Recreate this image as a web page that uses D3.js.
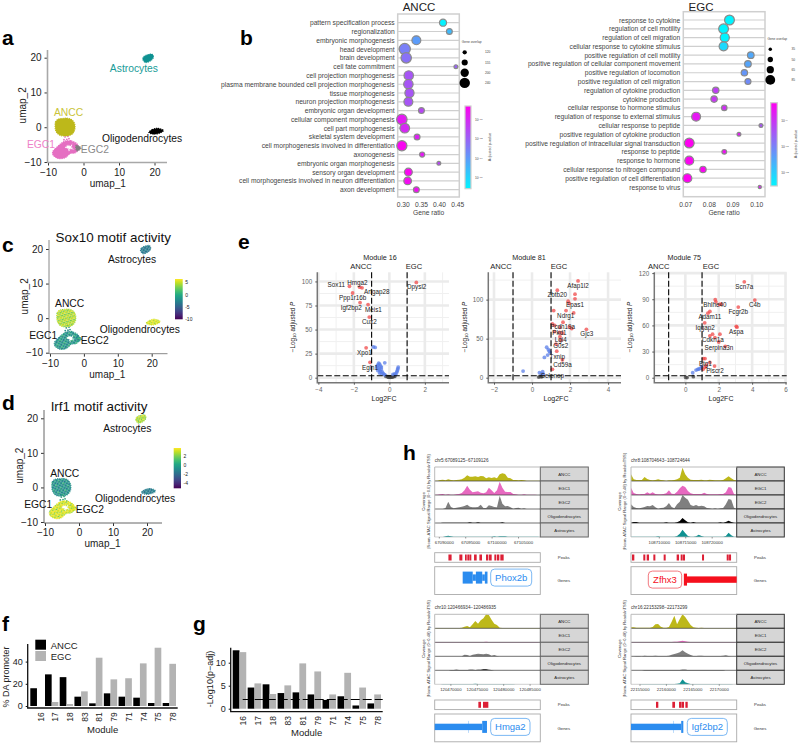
<!DOCTYPE html>
<html>
<head>
<meta charset="utf-8">
<script src="https://cdn.jsdelivr.net/npm/d3@7"></script>
<style>
  html, body { margin: 0; padding: 0; background: #fff; }
  svg { display: block; font-family: "Liberation Sans", Arial, sans-serif; }
</style>
</head>
<body>
<div id="chart-area"></div>
<script>

//  UMAP outlines, in umap units

var anccBlob = [[-8,0.3],[-7.9,1.5],[-7.2,2.3],[-6,2.5],[-4.5,2.6],[-3.2,2.1],[-2.5,1],[-2.4,-0.4],[-2.8,-1.5],[-3.6,-2.2],[-5,-2.5],[-6.5,-2.4],[-7.5,-1.6],[-7.9,-0.7]];
var egcBlob = [[-8.7,-7.1],[-8,-6.2],[-6.6,-4.9],[-5.2,-4],[-3.3,-4],[-1.7,-4.9],[-1.4,-6.4],[-2.4,-7.4],[-3.8,-7.6],[-5.2,-8.8],[-7.1,-9],[-8.5,-8.1]];
var egcHole = [[-4.4,-5],[-3.8,-5.3],[-3.1,-4.7],[-3.3,-5.7],[-2.6,-6.5],[-3.7,-6.3],[-4.2,-7.2],[-4.4,-6.2],[-5.4,-5.9]];
var egc2Blob = [[-2.1,-5.2],[-0.7,-6],[-1.9,-6.8]];
var astroBlob = [[16.7,19.5],[17,20.3],[17.9,20.8],[19.3,21],[19.7,20.1],[18.9,19.1],[17.5,18.6]];
var oligoBlob = [[18.4,-1.5],[19.3,-0.7],[20.8,-0.3],[22.5,-0.9],[21.7,-1.6],[19.8,-2]];
var strayCells = [[-4.9,-2.1],[-4.4,-2.6],[-5.2,-2.8],[-4.1,-3.3],[-4.7,-3.5],[-3.6,-3.9],[-5.5,-3.6]];

var umapTicks = [-10, 0, 10, 20];
var umapLabels = [["Astrocytes",14.2,17],["ANCC",-4.2,4.1],["EGC1",-12,-5],["EGC2",3.2,-6.5],["Oligodendrocytes",16.5,-3.3]];

//  motif activity mottling per cluster, 0-1 on viridis

var sox10Ancc = [0.95,0.8,1,0.7,0.85,1,0.75,0.95,1,0.7,0.9,0.85,0.75,0.95,0.8,1];
var sox10Egc = [0.45,0.6,0.4,0.55,0.65,0.4,0.5,0.7,0.42,0.55,0.62,0.38,0.58,0.45,0.4,0.66];
var sox10Astro = [0.4,0.45,0.35,0.42,0.38,0.48,0.4,0.36,0.44,0.36,0.42,0.46,0.4,0.34,0.45,0.4];
var sox10Oligo = [1,0.9,0.95,0.85,0.92,1,0.88,0.96,0.86,0.95,1,0.9,0.98,0.84,0.92,1];
var irf1Ancc = [0.45,0.5,0.6,0.42,0.55,0.7,0.4,0.5,0.44,0.48,0.66,0.42,0.52,0.4,0.46,0.6];
var irf1Egc = [1,0.95,0.85,1,0.9,1,0.75,0.95,0.97,0.85,1,0.92,0.8,1,0.95,0.88];
var irf1Astro = [0.85,1,0.75,0.9,1,0.8,0.95,0.7,0.78,0.95,0.85,1,0.92,0.72,1,0.82];
var irf1Oligo = [0.42,0.46,0.38,0.44,0.5,0.4,0.45,0.36,0.4,0.48,0.42,0.38,0.44,0.36,0.46,0.4];

//  Enrichment, ANCC

var anccTerms = ["pattern specification process","regionalization","embryonic morphogenesis","head development","brain development","cell fate commitment","cell projection morphogenesis","plasma membrane bounded cell projection morphogenesis","tissue morphogenesis","neuron projection morphogenesis","embryonic organ development","cellular component morphogenesis","cell part morphogenesis","skeletal system development","cell morphogenesis involved in differentiation","axonogenesis","embryonic organ morphogenesis","sensory organ development","cell morphogenesis involved in neuron differentiation","axon development"];
var anccRatio = [0.4095,0.427,0.336,0.304,0.308,0.445,0.315,0.314,0.317,0.314,0.35,0.296,0.304,0.338,0.296,0.352,0.398,0.314,0.312,0.336];
var anccOverlap = [175,150,210,255,240,110,220,220,215,210,150,240,225,150,235,135,110,190,185,150];
var anccExp = [-17,-15,-14,-13,-12.5,-12,-11.5,-11.5,-11.5,-11.5,-11,-9.5,-10,-9.7,-8.8,-9.5,-11,-8.8,-9,-9];
var anccRatioTicks = [0.30,0.35,0.40,0.45];
var anccOverlapTicks = [120,155,200,240];
var anccExpTicks = [-10,-12,-14,-16];

//  Enrichment, EGC

var egcTerms = ["response to cytokine","regulation of cell motility","regulation of cell migration","cellular response to cytokine stimulus","positive regulation of cell motility","positive regulation of cellular component movement","positive regulation of locomotion","positive regulation of cell migration","regulation of cytokine production","cytokine production","cellular response to hormone stimulus","regulation of response to external stimulus","cellular response to peptide","positive regulation of cytokine production","positive regulation of intracellular signal transduction","response to peptide","response to hormone","cellular response to nitrogen compound","positive regulation of cell differentiation","response to virus"];
var egcRatio = [0.0885,0.086,0.0865,0.086,0.0975,0.0963,0.0948,0.0963,0.0827,0.082,0.0863,0.0744,0.1018,0.0925,0.0715,0.0863,0.0715,0.0773,0.0707,0.1013];
var egcOverlap = [85,85,80,78,60,60,58,55,58,58,50,78,38,38,85,45,78,58,78,33];
var egcExp = [-14,-14,-14,-13.3,-12,-11.9,-11.5,-11.2,-9.2,-9,-8.8,-8.2,-9.8,-8.3,-7.6,-8,-7.7,-7.7,-7.6,-8.5];
var egcRatioTicks = [0.07,0.08,0.09,0.10];
var egcOverlapTicks = [35,50,65,85];
var egcExpTicks = [-9,-11,-13];

//  Volcano, module 16

var m16Up = [[-2.25,95],[-2.07,88],[-1.67,94],[-1.54,93.4],[-1.65,78],[-1.2,76],[-1.13,63],[-1.31,31],[-1.09,16],[1.52,99]];
var m16Blue = [[-0.9,32],[-0.8,31.5],[-0.26,15.5],[-0.6,15],[-0.55,14],[-0.65,13],[-0.7,12],[-0.5,12],[-0.45,11],[-0.6,10],[-0.7,10],[-0.45,9],[-0.55,8],[-0.65,7.5],[-0.5,6.5],[-0.4,6],[-0.55,5],[-0.35,4.5],[-0.45,4],[-0.3,3.5],[-0.25,3],[0.5,11],[0.48,9.5],[0.46,8],[0.43,6.5],[0.3,4],[0.2,3.5],[0.35,3.2],[0.4,5]];
var m16Gray = [[-0.2,1.5],[-0.1,1],[0,0.7],[0.1,0.8],[0.2,1],[0.3,1.3],[0.05,0.4],[-0.05,0.5],[0.15,0.5],[0.25,1.6]];
var m16Labels = [["Sox11",-2.99,97],["Hmga2",-1.8,99],["Arfgap28",-0.71,90],["Ppp1r16b",-2.07,83],["Igf2bp2",-2.14,73],["Meis1",-0.9,70.6],["Cux2",-1.13,58],["Xpo1",-1.41,26],["Egln1",-1.09,10.7],["Dpysl2",1.54,94.5]];

//  Volcano, module 81

var m81Up = [[2.42,124],[1.33,112],[2.26,107],[2.26,101],[1.9,98],[1.96,95],[1.14,86],[1.79,86],[2.19,83],[1.63,71],[1.07,69],[1.19,67],[1.47,64.5],[1.96,65],[2.09,63],[2.86,62],[1.18,59],[1.44,58],[1.6,57],[1.47,52.5],[1.51,48],[1.26,43],[1.3,34],[1.6,23],[1.07,10.7]];
var m81Blue = [[0.77,39],[0.86,36],[0.91,34],[0.95,32],[0.82,29],[0.65,26],[-0.47,8.5],[0.39,6.4],[0.56,7.7],[0.6,4.5],[0.5,5]];
var m81Gray = [[0.35,0.8],[0.42,1.6],[0.5,1.2]];
var m81Labels = [["Afap1l2",2.42,118],["Zbtb20",1.33,106],["Epas1",2.26,94],["Ndrg1",1.77,79.5],["Pcdh19a",1.61,66],["Pkd1",1.44,58],["Lgi4",1.51,49.5],["G0s2",1.51,41],["Txnip",1.33,27],["Cd59a",1.6,16.7],["Selenop",1.07,3.4],["Gjc3",2.88,56]];

//  Volcano, module 75

var m75Up = [[3.53,110],[4.16,89],[1.79,89.4],[1.83,87],[2.05,84],[2.15,84.5],[3.17,81],[1.47,76],[1.35,74],[1.16,63],[3.05,59],[3.09,58],[2.07,50],[1.63,50],[1.47,48],[1.77,46],[2,41],[2.39,36],[1.08,22],[1.18,22],[1.47,17.6],[1.25,14.5],[1.75,13.4],[1.18,12],[1.06,9.6]];
var m75Blue = [[0.44,5.7],[0.64,8.8],[0.74,9.6],[0.88,10.7],[0.98,12.6],[0.8,9.8]];
var m75Gray = [[0.02,0.4],[0.1,0.2],[0.48,1.2]];
var m75Labels = [["Scn7a",3.53,104.7],["C4b",4.16,84],["Bhlhe40",1.77,84],["Fcgr2b",3.17,75.7],["Adam11",1.47,70.7],["Iqgap2",1.18,57.7],["Aspa",3.05,53.5],["Cdkn1a",1.65,44],["Serpina3n",2.01,34.8],["Btg1",1.2,16.8],["Plscr2",1.77,8]];

//  Bars f and g

var modules = ["16","17","18","83","81","79","71","74","75","78"];
var daAncc = [16,28.5,26,8.4,2.4,11.4,8.4,7.5,2.7,2.7];
var daEgc = [0,3.6,1.8,13.2,43.5,24,25,38.4,52.5,38];
var padjAncc = [12.7,4.6,5.3,3.4,3.55,3.1,1.9,2.7,0.7,1.15];
var padjEgc = [12.3,5.5,3.2,5.07,9.85,8.1,3.1,7.8,4.6,3.1];

//  Coverage tracks, 40 bins per window, in track units (full track = 42)

var trackNames = ["ANCC","EGC1","EGC2","Oligodendrocytes","Astrocytes"];
var trackColors = ["#bdb81a","#e769c0","#7f7f7f","#000000","#0e9191"];

var phox2bCov = [
  [1,1,3,4,2,5,3,2,3,4,5,10,17,13,13,14,12,15,14,8,11,9,11,8,20,23,21,10,8,3,3,2,3,2,1,1,1,1,1,1],
  [1,1,2,3,1,2,1,1,2,3,6,14,28,16,8,10,11,7,5,8,22,14,6,14,40,22,10,9,9,3,2,1,1,2,1,1,1,1,0,0],
  [0,0,0,0,3,22,6,2,4,5,7,9,13,7,5,5,6,13,3,3,11,9,6,5,40,16,8,9,5,1,3,4,1,2,0,0,0,0,0,0],
  [0,0,0,1,1,1,1,1,1,1,1,1,1,2,1,1,2,1,1,1,1,1,1,1,1,2,0,0,0,0,0,0,0,0,0,0,0,0,0,0],
  [0,0,0,0,2,4,2,1,1,1,1,1,1,1,1,1,1,1,1,1,1,1,2,1,2,2,2,1,1,1,1,1,1,1,1,1,1,1,1,0]
];
var zfhx3Cov = [
  [20,5,3,3,3,12,6,3,2,3,5,3,2,1,2,2,3,5,10,40,20,10,4,3,3,3,4,2,2,4,3,2,2,2,3,8,14,8,3,2],
  [22,6,3,2,3,3,8,4,8,3,2,2,3,5,14,4,3,10,20,28,24,12,5,3,3,3,3,7,3,2,2,2,2,3,3,8,24,22,3,1],
  [14,6,3,2,4,6,9,8,12,5,1,3,4,8,18,6,2,14,22,42,34,28,12,9,12,8,10,8,3,2,1,2,1,2,3,14,30,28,4,1],
  [1,3,3,1,1,1,1,1,1,1,1,1,1,2,1,1,1,2,6,15,8,2,1,3,1,1,1,1,1,1,1,1,1,2,1,3,7,3,1,0],
  [1,1,1,1,1,1,1,1,1,1,2,1,1,1,1,1,1,3,10,22,12,3,1,1,2,7,3,1,1,1,1,1,1,1,1,3,13,5,1,1]
];
var hmga2Cov = [
  [1,1,1,1,1,1,1,1,1,1,2,5,7,3,12,22,14,24,30,42,40,26,14,10,2,1,1,1,1,1,1,1,1,1,1,1,1,1,1,1],
  [1,1,1,1,1,1,1,1,1,1,1,1,1,1,1,1,1,1,1,2,1,1,1,1,1,1,1,1,1,1,1,1,1,1,1,1,1,1,1,0],
  [0,0,0,0,0,0,0,0,0,0,0,5,4,1,5,6,8,7,6,8,6,2,4,1,0,0,0,0,0,0,0,0,0,0,0,0,0,0,0,0],
  [0,0,0,0,0,0,1,1,2,1,1,1,1,2,2,1,2,2,3,3,2,1,0,0,0,0,0,0,0,0,0,0,0,0,0,0,0,0,0,0],
  [0,0,0,1,1,1,1,1,1,1,1,1,1,1,1,2,1,1,1,1,1,1,1,1,1,1,1,1,1,1,0,0,0,0,0,0,0,0,0,0]
];
var igf2bp2Cov = [
  [3,3,2,2,2,2,2,2,4,12,13,5,2,2,4,20,38,12,28,42,34,22,10,3,2,1,2,1,1,1,1,1,1,1,1,1,1,1,1,1],
  [1,1,1,1,1,1,1,1,1,1,1,1,1,1,1,1,2,2,3,5,3,2,1,1,1,1,1,1,1,1,1,1,1,1,1,1,1,1,1,0],
  [0,0,1,1,0,2,1,1,1,2,1,1,1,1,2,5,7,9,12,18,12,8,4,1,1,2,2,1,1,1,1,1,1,1,2,3,1,0,0,0],
  [0,0,0,0,0,1,1,1,1,1,1,1,1,1,1,1,1,1,1,2,2,1,1,1,1,1,1,1,1,1,1,1,1,1,1,0,0,0,0,0],
  [0,0,0,0,1,1,1,1,1,1,1,1,1,1,1,1,1,2,3,15,6,3,1,1,1,1,1,1,1,1,1,1,1,1,1,1,1,1,0,0]
];

//  Windows, peaks and gene parts, in kb from window start

var windowStarts = [67089125, 108704643, 120466934, 22153298];
var windowLabels = ["chr5:67089125\u221267109126","chr8:108704643\u2212108724644","chr10:120466934\u2212120486935","chr16:22153298\u221222173299"];
var windowTicks = [
  [67090000,67095000,67100000,67105000],
  [108710000,108715000,108720000],
  [120470000,120475000,120480000,120485000],
  [22155000,22160000,22165000,22170000]
];
var phox2bPeaks = [[2.6,3.2],[4.67,5.24],[5.74,6.06],[6.18,6.5],[6.56,6.94],[7.45,7.95],[8.46,8.96],[9.72,10.16],[10.29,10.79],[11.3,11.67],[11.8,12.24],[12.43,13.06]];
var zfhx3Peaks = [[0.19,0.63],[2.33,2.71],[2.97,3.41],[4.23,4.61],[6.18,6.56],[8.64,9.09],[9.4,9.78],[9.84,10.22],[13.44,13.82],[18.11,18.49],[18.55,18.93]];
var hmga2Peaks = [[8.27,8.77],[9.15,10.16]];
var igf2bp2Peaks = [[4.73,5.17],[7.82,8.33],[9.09,9.59],[9.65,10.03],[10.29,10.73]];
var phox2bParts = [[5.3,7.2,"exon"],[7.2,7.8,"utr"],[7.8,9.0,"exon"],[9.0,9.5,"utr"],[9.5,10.0,"exon"]];
var zfhx3Parts = [[10.0,10.6,"exon"],[10.6,20,"utr"]];
var hmga2Parts = [[0,9.0,"utr"],[6.37,6.43,"line"],[9.0,9.9,"exon"]];
var igf2bp2Parts = [[0,9.5,"utr"],[8.0,8.06,"line"],[9.5,9.9,"exon"]];
var geneNames = ["Phox2b","Zfhx3","Hmga2","Igf2bp2"];

//  SVG canvas

var svg = d3.select("#chart-area").append("svg")
    .attr("width", 800)
    .attr("height", 743);

var defs = svg.append("defs");

function addText(g, txt, x, y, size, color, anchor) {
    return g.append("text")
        .attr("x", x)
        .attr("y", y)
        .attr("font-size", size)
        .attr("fill", color || "#000")
        .attr("text-anchor", anchor || "middle")
        .attr("dominant-baseline", "central")
        .text(txt);
}

function addRotated(g, txt, x, y, size, color) {
    return g.append("text")
        .attr("transform", "translate(" + x + "," + y + ") rotate(-90)")
        .attr("font-size", size)
        .attr("fill", color || "#000")
        .attr("text-anchor", "middle")
        .attr("dominant-baseline", "central")
        .text(txt);
}

//  Panel letters

[["a",2,45],["b",240,45],["c",2,252],["d",2,410],["e",238,249],["f",2,631],["g",193,631],["h",403,460]].forEach((d) => {
    svg.append("text").attr("x", d[1]).attr("y", d[2])
        .attr("font-size", 21).attr("font-weight", "bold").text(d[0]);
});

//  UMAP panels

var patternCount = 0;

function speckle(values) {
    var id = "speckle" + (patternCount++);
    var p = defs.append("pattern").attr("id", id)
        .attr("patternUnits", "userSpaceOnUse")
        .attr("patternTransform", "rotate(28)")
        .attr("width", 5.2).attr("height", 5.2);
    values.forEach((v, i) => {
        p.append("rect")
            .attr("x", (i % 4) * 1.3)
            .attr("y", Math.floor(i / 4) * 1.3)
            .attr("width", 1.35)
            .attr("height", 1.35)
            .attr("fill", d3.interpolateViridis(v));
    });
    return "url(#" + id + ")";
}

function umapPanel(o) {
    var g = svg.append("g");
    var x = d3.scaleLinear().domain([-10, 20]).range(o.xr);
    var y = d3.scaleLinear().domain([-10, 20]).range(o.yr);
    var outline = d3.line().x((d) => x(d[0])).y((d) => y(d[1])).curve(d3.curveCardinalClosed);
    var star = d3.line().x((d) => x(d[0])).y((d) => y(d[1])).curve(d3.curveLinearClosed);

    g.selectAll(null).data(strayCells).enter().append("circle")
        .attr("cx", (d) => x(d[0])).attr("cy", (d) => y(d[1])).attr("r", 0.9)
        .attr("fill", o.stray);

    //  dotted edge in the fill colour, so the clouds do not end on a clean curve
    [[outline(anccBlob), o.ancc], [outline(egcBlob) + star(egcHole), o.egc], [outline(egc2Blob), o.egc2],
     [outline(astroBlob), o.astro], [outline(oligoBlob), o.oligo]].forEach((b) => {
        g.append("path").attr("d", b[0])
            .attr("fill", b[1]).attr("fill-rule", "evenodd")
            .attr("stroke", b[1]).attr("stroke-width", 1.1).attr("stroke-dasharray", "1.2,0.9");
    });

    var xAxis = g.append("g").attr("transform", "translate(0," + (o.yr[0] + o.spineOff) + ")")
        .call(d3.axisBottom(x).tickValues(umapTicks).tickFormat(d3.format("d")).tickSize(3));
    var yAxis = g.append("g").attr("transform", "translate(" + (o.xr[0] - o.spineOff) + ",0)")
        .call(d3.axisLeft(y).tickValues(umapTicks).tickFormat(d3.format("d")).tickSize(3));
    [xAxis, yAxis].forEach((a) => {
        a.select(".domain").remove();
        a.selectAll("line").attr("stroke", "#333");
        a.selectAll("text").attr("font-size", 10).attr("fill", "#222").attr("font-family", "Liberation Sans");
    });

    g.append("line").attr("x1", o.xr[0] - o.spineOff).attr("x2", o.xEnd)
        .attr("y1", o.yr[0] + o.spineOff).attr("y2", o.yr[0] + o.spineOff)
        .attr("stroke", o.spine).attr("stroke-width", o.spineW);
    g.append("line").attr("x1", o.xr[0] - o.spineOff).attr("x2", o.xr[0] - o.spineOff)
        .attr("y1", o.yTop).attr("y2", o.yr[0] + o.spineOff)
        .attr("stroke", o.spine).attr("stroke-width", o.spineW);

    umapLabels.forEach((d, i) => {
        addText(g, d[0], x(d[1]), y(d[2]), 10.3, o.labelColors[i]);
    });

    addText(g, "umap_1", (o.xr[0] + o.xr[1]) / 2 + 6.5, o.yr[0] + 21.5, 10, "#222");
    addRotated(g, "umap_2", o.xr[0] - 26, (o.yr[0] + o.yr[1]) / 2 - 4.5, 10, "#222");
}

umapPanel({
    xr: [48, 154.5], yr: [162, 57.7], xEnd: 167, yTop: 50, spineOff: 0.5,
    spine: "#a8a8a8", spineW: 1.6,
    ancc: "#bdb81a", egc: "#e56fc2", egc2: "#7f7f7f", astro: "#0e9191", oligo: "#000", stray: "#e56fc2",
    labelColors: ["#189c98","#c9c43a","#ee82c8","#8a8a8a","#111"]
});

umapPanel({
    xr: [50, 151.7], yr: [352.7, 249], xEnd: 167.5, yTop: 240, spineOff: 1,
    spine: "#888", spineW: 1,
    ancc: speckle(sox10Ancc), egc: speckle(sox10Egc), egc2: speckle(sox10Egc), astro: speckle(sox10Astro), oligo: speckle(sox10Oligo), stray: "#2a8f8a",
    labelColors: ["#111","#111","#111","#111","#111"]
});

umapPanel({
    xr: [45, 147], yr: [522, 418.3], xEnd: 162, yTop: 410, spineOff: 1,
    spine: "#666", spineW: 1,
    ancc: speckle(irf1Ancc), egc: speckle(irf1Egc), egc2: speckle(irf1Egc), astro: speckle(irf1Astro), oligo: speckle(irf1Oligo), stray: "#3aa57f",
    labelColors: ["#111","#111","#111","#111","#111"]
});

addText(svg, "Sox10 motif activity", 113.3, 237, 13.4, "#111");
addText(svg, "Irf1 motif activity", 99, 406, 13.4, "#111");

function viridisBar(id, x0, x1, yTop, yBot, ticks) {
    var grad = defs.append("linearGradient").attr("id", id)
        .attr("x1", 0).attr("x2", 0).attr("y1", 1).attr("y2", 0);
    d3.range(0, 1.01, 0.1).forEach((t) => {
        grad.append("stop").attr("offset", t).attr("stop-color", d3.interpolateViridis(t));
    });
    svg.append("rect").attr("x", x0).attr("y", yTop).attr("width", x1 - x0).attr("height", yBot - yTop)
        .attr("fill", "url(#" + id + ")");
    ticks.forEach((d) => {
        addText(svg, d[0], x1 + 2.5, d[1], 5, "#222", "start");
    });
}

viridisBar("soxBar", 175, 182.7, 279, 319.3, [["5",282.3],["0",294.7],["-5",307],["-10",319.3]]);
viridisBar("irfBar", 173.7, 181, 448, 488.3, [["2",456.3],["0",465.3],["-2",474.3],["-4",483.3]]);

//  Enrichment panels

function dotPanel(o) {
    var g = svg.append("g");
    var x = d3.scaleLinear().domain(o.xDomain).range(o.xRange);
    var y = d3.scalePoint().domain(o.terms).range(o.yRange);
    var r = d3.scaleLinear().domain(o.rDomain).range(o.rRange);
    var c = d3.scaleLinear().domain(o.expDomain).range(["#00f5ff", "#ff00f0"]);

    g.append("rect").attr("x", o.box[0]).attr("y", o.box[2])
        .attr("width", o.box[1] - o.box[0]).attr("height", o.box[3] - o.box[2])
        .attr("fill", "#fff").attr("stroke", "#cfcfcf").attr("stroke-width", 1.5);

    g.selectAll(null).data(o.terms).enter().append("line")
        .attr("x1", o.box[0]).attr("x2", o.box[1])
        .attr("y1", (d) => y(d)).attr("y2", (d) => y(d))
        .attr("stroke", "#cfcfcf").attr("stroke-width", 1.2);

    g.selectAll(null).data(o.terms).enter().append("circle")
        .attr("cx", (d, i) => x(o.ratio[i]))
        .attr("cy", (d) => y(d))
        .attr("r", (d, i) => r(o.overlap[i]))
        .attr("fill", (d, i) => c(o.exp[i]))
        .attr("stroke", "#8a8a8a")
        .attr("stroke-width", 1.2);

    o.terms.forEach((d) => {
        addText(g, d, o.box[0] - 3, y(d), 6.7, "#444", "end");
    });

    addText(g, o.title, o.titleX, 6.5, 11.5, "#222");

    o.ratioTicks.forEach((d) => {
        addText(g, d.toFixed(2), x(d), 204, 6.7, "#444");
    });
    addText(g, "Gene ratio", o.xLabelX, 212, 6.7, "#444");

    addText(g, "Gene overlap", o.sizeX + 7, o.sizeTitleY, 3.3, "#444");
    o.overlapTicks.forEach((d, i) => {
        var yy = o.sizeY + i * 10.2;
        g.append("circle").attr("cx", o.sizeX).attr("cy", yy).attr("r", r(d)).attr("fill", "#000");
        addText(g, d, o.sizeX + 23, yy, 3.3, "#444");
    });

    var gradId = "pval" + o.title;
    var grad = defs.append("linearGradient").attr("id", gradId)
        .attr("x1", 0).attr("x2", 0).attr("y1", 0).attr("y2", 1);
    grad.append("stop").attr("offset", 0).attr("stop-color", "#ff00f0");
    grad.append("stop").attr("offset", 1).attr("stop-color", "#00f5ff");

    var barY = d3.scaleLinear().domain(o.expDomain).range(o.bar.slice(2).reverse());
    g.append("rect").attr("x", o.bar[0]).attr("y", o.bar[2])
        .attr("width", o.bar[1] - o.bar[0]).attr("height", o.bar[3] - o.bar[2])
        .attr("fill", "url(#" + gradId + ")")
        .attr("stroke", "#cfcfcf").attr("stroke-width", 1.2);
    o.expTicks.forEach((d) => {
        var t = addText(g, "10", o.bar[1] + 4, barY(d), 3.2, "#444", "start");
        t.append("tspan").attr("font-size", 2.4).attr("dy", -1).text("\u2212" + Math.abs(d));
    });
    addRotated(g, "Adjusted p-value", o.barLabelX, o.barLabelY, 3.8, "#444");
}

dotPanel({
    title: "ANCC", titleX: 419, terms: anccTerms, ratio: anccRatio, overlap: anccOverlap, exp: anccExp,
    ratioTicks: anccRatioTicks, overlapTicks: anccOverlapTicks, expTicks: anccExpTicks,
    xDomain: [0.30, 0.45], xRange: [403.3, 457.7], yRange: [22.7, 189.7], box: [397.7, 459.3, 14, 197],
    rDomain: [110, 255], rRange: [1.9, 5.6], expDomain: [-17.1, -8.55],
    xLabelX: 428.7, sizeX: 464.7, sizeY: 52.3, sizeTitleY: 42,
    bar: [465, 471, 106, 188.7], barLabelX: 490, barLabelY: 147
});

dotPanel({
    title: "EGC", titleX: 701, terms: egcTerms, ratio: egcRatio, overlap: egcOverlap, exp: egcExp,
    ratioTicks: egcRatioTicks, overlapTicks: egcOverlapTicks, expTicks: egcExpTicks,
    xDomain: [0.07, 0.10], xRange: [685.7, 756.7], yRange: [20, 187], box: [683.3, 765, 11.7, 196.7],
    rDomain: [33, 85], rRange: [1.6, 4.9], expDomain: [-14.03, -7.55],
    xLabelX: 724, sizeX: 770.3, sizeY: 49.3, sizeTitleY: 39,
    bar: [770.7, 777.3, 102.7, 186], barLabelX: 796, barLabelY: 144
});

//  Volcano panels

function volcano(o) {
    var g = svg.append("g");
    var x = d3.scaleLinear().domain(o.xDomain).range([o.left, o.right]);
    var y = d3.scaleLinear().domain(o.yDomain).range([382.7, 272.3]);

    o.xMinor.forEach((d) => {
        g.append("line").attr("x1", x(d)).attr("x2", x(d)).attr("y1", 272.3).attr("y2", 382.7)
            .attr("stroke", "#f0f0f0").attr("stroke-width", 1);
    });
    o.yMinor.forEach((d) => {
        g.append("line").attr("x1", o.left).attr("x2", o.right).attr("y1", y(d)).attr("y2", y(d))
            .attr("stroke", "#f0f0f0").attr("stroke-width", 1);
    });
    o.xTicks.forEach((d) => {
        g.append("line").attr("x1", x(d)).attr("x2", x(d)).attr("y1", 272.3).attr("y2", 382.7)
            .attr("stroke", "#ebebeb").attr("stroke-width", 2.6);
    });
    o.yTicks.forEach((d) => {
        g.append("line").attr("x1", o.left).attr("x2", o.right).attr("y1", y(d)).attr("y2", y(d))
            .attr("stroke", "#ebebeb").attr("stroke-width", 2.6);
    });

    [[o.gray, "#444"], [o.blue, "#5b7fe8"], [o.up, "#f04a4a"]].forEach((s) => {
        g.selectAll(null).data(s[0]).enter().append("circle")
            .attr("cx", (d) => x(d[0]))
            .attr("cy", (d) => y(d[1]))
            .attr("r", 1.9)
            .attr("fill", s[1])
            .attr("fill-opacity", 0.75);
    });

    [-1, 1].forEach((d) => {
        g.append("line").attr("x1", x(d)).attr("x2", x(d)).attr("y1", 272.3).attr("y2", 382.7)
            .attr("stroke", "#000").attr("stroke-width", 1.1).attr("stroke-dasharray", "6,2.5");
    });
    g.append("line").attr("x1", o.left).attr("x2", o.right).attr("y1", 375.7).attr("y2", 375.7)
        .attr("stroke", "#000").attr("stroke-width", 1.1).attr("stroke-dasharray", "6,2.5");

    g.append("path").attr("d", "M" + o.left + ",272.3V382.7H" + o.right)
        .attr("fill", "none").attr("stroke", "#777").attr("stroke-width", 1.5);

    o.labels.forEach((d) => {
        addText(g, d[0], x(d[1]), y(d[2]), 6.3, "#222");
    });

    var xAxis = g.append("g").attr("transform", "translate(0,382.7)")
        .call(d3.axisBottom(x).tickValues(o.xTicks).tickFormat((d) => String(d).replace("-", "\u2212")).tickSize(2));
    var yAxis = g.append("g").attr("transform", "translate(" + o.left + ",0)")
        .call(d3.axisLeft(y).tickValues(o.yTicks).tickFormat(d3.format("d")).tickSize(2));
    [xAxis, yAxis].forEach((a) => {
        a.select(".domain").remove();
        a.selectAll("line").attr("stroke", "#555");
        a.selectAll("text").attr("font-size", 6.3).attr("fill", "#666").attr("font-family", "Liberation Sans");
    });

    addText(g, o.title, o.titleX, 257, 7.2, "#222");
    addText(g, "ANCC", o.anccX, 266.3, 7.6, "#222");
    addText(g, "EGC", o.egcX, 266.3, 7.6, "#222");
    addText(g, "Log2FC", o.logX, 398.7, 7, "#222");

    var lab = g.append("text")
        .attr("transform", "translate(" + o.yLabX + ",327) rotate(-90)")
        .attr("font-size", 6.3).attr("fill", "#222").attr("text-anchor", "middle");
    lab.append("tspan").text("\u2212Log");
    lab.append("tspan").attr("font-size", 4.4).attr("dy", 1.4).text("10");
    lab.append("tspan").attr("dy", -1.4).text(" adjusted ");
    lab.append("tspan").attr("font-style", "italic").text("P");
}

volcano({
    title: "Module 16", titleX: 380, anccX: 361, egcX: 414, logX: 384, yLabX: 295,
    left: 317.3, right: 449, xDomain: [-4.06, 3.36], yDomain: [-5.2, 109.5],
    xTicks: [-4,-2,0,2], xMinor: [-3,-1,1,3], yTicks: [0,25,50,75,100], yMinor: [12.5,37.5,62.5,87.5],
    up: m16Up, blue: m16Blue, gray: m16Gray, labels: m16Labels
});
volcano({
    title: "Module 81", titleX: 529, anccX: 501, egcX: 559, logX: 556, yLabX: 467,
    left: 488.3, right: 621, xDomain: [-2.3, 4.68], yDomain: [-6.4, 135],
    xTicks: [-2,0,2,4], xMinor: [-1,1,3], yTicks: [0,50,100], yMinor: [25,75,125],
    up: m81Up, blue: m81Blue, gray: m81Gray, labels: m81Labels
});
volcano({
    title: "Module 75", titleX: 684.3, anccX: 658.7, egcX: 711, logX: 721, yLabX: 632,
    left: 654.3, right: 786.7, xDomain: [-1.86, 6.07], yDomain: [-5.7, 120.9],
    xTicks: [0,2,4,6], xMinor: [-1,1,3,5], yTicks: [0,30,60,90,120], yMinor: [15,45,75,105],
    up: m75Up, blue: m75Blue, gray: m75Gray, labels: m75Labels
});

//  Bars f and g

function barPanel(o) {
    var g = svg.append("g");
    var x0 = d3.scaleBand().domain(modules).range(o.xRange).paddingInner(0.095);
    var x1 = d3.scaleBand().domain([0, 1]).range([0, x0.bandwidth()]);
    var y = d3.scaleLinear().domain([0, o.yMax]).range([o.y0, o.y0 - o.yMax * o.pxPerUnit]);

    [[o.ancc, "#000"], [o.egc, "#b3b3b3"]].forEach((s, k) => {
        g.selectAll(null).data(modules).enter().append("rect")
            .attr("x", (d) => x0(d) + x1(k))
            .attr("width", x1.bandwidth())
            .attr("y", (d, i) => y(s[0][i]))
            .attr("height", (d, i) => o.y0 - y(s[0][i]))
            .attr("fill", s[1]);
    });

    if (o.cutoff) {
        g.append("line").attr("x1", o.cutX).attr("x2", o.axisRight)
            .attr("y1", y(o.cutoff)).attr("y2", y(o.cutoff))
            .attr("stroke", "#000").attr("stroke-width", 1.1).attr("stroke-dasharray", "9,3");
    }

    g.append("path").attr("d", "M" + o.axisLeft + "," + o.axisTop + "V" + o.axisBottom + "H" + o.axisRight)
        .attr("fill", "none").attr("stroke", "#111").attr("stroke-width", 1.3);

    var yAxis = g.append("g").attr("transform", "translate(" + o.axisLeft + ",0)")
        .call(d3.axisLeft(y).tickValues(o.yTicks).tickFormat(d3.format("d")).tickSize(2));
    yAxis.select(".domain").remove();
    yAxis.selectAll("line").attr("stroke", "#111");
    yAxis.selectAll("text").attr("font-size", 9).attr("fill", "#222").attr("font-family", "Liberation Sans");

    modules.forEach((d) => {
        addRotated(g, d, x0(d) + x0.bandwidth() / 2 + 3.7, o.axisBottom + 9, 8.5, "#222");
    });

    addText(g, "Module", o.moduleX, o.moduleY, 9.5, "#222");
    addRotated(g, o.yLabel, o.yLabX, o.yLabY, 9, "#222");
}

barPanel({
    ancc: daAncc, egc: daEgc, xRange: [30.3, 176], y0: 706, yMax: 55, pxPerUnit: 1.11,
    yTicks: [0,20,40], axisLeft: 27.7, axisTop: 644, axisBottom: 708, axisRight: 177.7,
    moduleX: 102.7, moduleY: 729.3, yLabel: "% DA promoter", yLabX: 6, yLabY: 677
});

barPanel({
    ancc: padjAncc, egc: padjEgc, xRange: [232.7, 381], y0: 708.7, yMax: 13, pxPerUnit: 4.6,
    yTicks: [0,5,10], axisLeft: 230.7, axisTop: 647.7, axisBottom: 711.7, axisRight: 382.7,
    cutoff: 2, cutX: 242.7,
    moduleX: 306.7, moduleY: 732, yLabel: "-Log10(p\u2212adj)", yLabX: 210, yLabY: 679
});

[["ANCC","#000",639.7,645],["EGC","#b3b3b3",651,656.7]].forEach((d) => {
    svg.append("rect").attr("x", 35.3).attr("y", d[2]).attr("width", 10.7).attr("height", 10).attr("fill", d[1]);
    addText(svg, d[0], 50.7, d[3], 9.5, "#222", "start");
});

//  Browser tracks

var partHeight = { exon: 12, utr: 6.4, line: 12 };

function browserPanel(o) {
    var g = svg.append("g");
    var x = d3.scaleLinear().domain([0, 20.001]).range([o.left, o.right]);
    var bin = d3.scaleLinear().domain([0, 39]).range([o.left, o.right]);
    var trackH = 14;
    var cov = d3.scaleLinear().domain([0, 42]).range([trackH, 0]);
    var area = d3.area().x((d, i) => bin(i)).y0(trackH).y1((d) => cov(d));

    o.coverage.forEach((values, k) => {
        var t = g.append("g").attr("transform", "translate(0," + (o.top + k * trackH) + ")");
        t.append("path").attr("d", area(values)).attr("fill", trackColors[k]);
        t.append("line").attr("x1", o.left).attr("x2", o.right).attr("y1", trackH).attr("y2", trackH)
            .attr("stroke", k == 4 ? "#bbb" : "#333").attr("stroke-width", 0.7);
        t.append("rect").attr("x", o.right).attr("y", 0).attr("width", o.stripW).attr("height", trackH)
            .attr("fill", "#d6d6d6").attr("stroke", o.stripEdge).attr("stroke-width", 1);
        addText(t, trackNames[k], o.right + o.stripW / 2, trackH / 2, 4.3, "#222");
    });

    g.append("path").attr("d", "M" + o.right + "," + o.top + "H" + o.left + "V" + (o.top + 5 * trackH))
        .attr("fill", "none").attr("stroke", "#bbb").attr("stroke-width", 1);

    addText(g, o.chr, o.left, o.top - 6.7, 4.6, "#333", "start");

    o.ticks.forEach((d) => {
        var px = x((d - o.start) / 1000);
        g.append("line").attr("x1", px).attr("x2", px)
            .attr("y1", o.top + 5 * trackH).attr("y2", o.top + 5 * trackH + 1.5)
            .attr("stroke", "#333").attr("stroke-width", 0.5);
        addText(g, d, px + o.tickShift, o.top + 5 * trackH + 5.5, 4.3, "#333");
    });

    addRotated(g, "Coverage", o.left - 11.5, o.top + 34.5, 4.3, "#333");
    addRotated(g, "(Norm. ATAC Signal Range (0\u2212" + o.range + ") by ReadsInTSS)", o.left - 6.7, o.top + 34.5, 4.1, "#333");

    var peakTop = o.top + 85.7;
    g.append("rect").attr("x", o.left).attr("y", peakTop).attr("width", o.right - o.left).attr("height", 9.6)
        .attr("fill", "#fff").attr("stroke", "#aaa").attr("stroke-width", 0.9);
    g.selectAll(null).data(o.peaks).enter().append("rect")
        .attr("x", (d) => x(d[0]))
        .attr("width", (d) => x(d[1]) - x(d[0]))
        .attr("y", peakTop + 1.8)
        .attr("height", 6)
        .attr("fill", "#dc1f35");
    addText(g, "Peaks", o.right + o.stripW / 2 - 0.5, peakTop + 4.8, 4.3, "#333");

    var geneTop = o.top + 99.7;
    var geneH = 27.8;
    var geneMid = geneTop + geneH / 2 + o.geneShift;
    g.append("rect").attr("x", o.left).attr("y", geneTop).attr("width", o.right - o.left).attr("height", geneH)
        .attr("fill", "#fff").attr("stroke", "#aaa").attr("stroke-width", 0.9);
    g.selectAll(null).data(o.parts).enter().append("rect")
        .attr("x", (d) => x(d[0]))
        .attr("width", (d) => x(d[1]) - x(d[0]))
        .attr("y", (d) => geneMid - partHeight[d[2]] / 2)
        .attr("height", (d) => partHeight[d[2]])
        .attr("fill", o.geneColor);
    g.append("rect").attr("x", o.nameBox[0]).attr("y", geneMid - 8.5)
        .attr("width", o.nameBox[1] - o.nameBox[0]).attr("height", 17)
        .attr("rx", 4).attr("fill", "#fff").attr("stroke", o.geneEdge).attr("stroke-width", 0.9);
    addText(g, o.gene, (o.nameBox[0] + o.nameBox[1]) / 2, geneMid, 9.5, o.geneColor);
    addText(g, "Genes", o.right + o.stripW / 2 - 0.5, geneTop + 14, 4.3, "#333");
}

browserPanel({
    left: 434.7, right: 540.3, stripW: 48, stripEdge: "#666", top: 467, chr: windowLabels[0], start: windowStarts[0],
    ticks: windowTicks[0], tickShift: 5, range: "0.6", coverage: phox2bCov, peaks: phox2bPeaks, parts: phox2bParts,
    gene: geneNames[0], geneColor: "#2b8cef", geneEdge: "#6db0f2", nameBox: [490.7, 531.7], geneShift: -3
});
browserPanel({
    left: 631, right: 736.7, stripW: 47.6, stripEdge: "#333", top: 467, chr: windowLabels[1], start: windowStarts[1],
    ticks: windowTicks[1], tickShift: 0, range: "0.48", coverage: zfhx3Cov, peaks: zfhx3Peaks, parts: zfhx3Parts,
    gene: geneNames[1], geneColor: "#f50f1c", geneEdge: "#f06a72", nameBox: [648.3, 681.7], geneShift: -1
});
browserPanel({
    left: 434.7, right: 540.3, stripW: 48, stripEdge: "#666", top: 614.3, chr: windowLabels[2], start: windowStarts[2],
    ticks: windowTicks[2], tickShift: 0, range: "0.48", coverage: hmga2Cov, peaks: hmga2Peaks, parts: hmga2Parts,
    gene: geneNames[2], geneColor: "#2b8cef", geneEdge: "#6db0f2", nameBox: [490.7, 530], geneShift: -1
});
browserPanel({
    left: 631, right: 736.7, stripW: 47.6, stripEdge: "#333", top: 614.3, chr: windowLabels[3], start: windowStarts[3],
    ticks: windowTicks[3], tickShift: 0, range: "0.48", coverage: igf2bp2Cov, peaks: igf2bp2Peaks, parts: igf2bp2Parts,
    gene: geneNames[3], geneColor: "#2b8cef", geneEdge: "#6db0f2", nameBox: [687.3, 727.3], geneShift: -1
});

</script>
</body>
</html>
